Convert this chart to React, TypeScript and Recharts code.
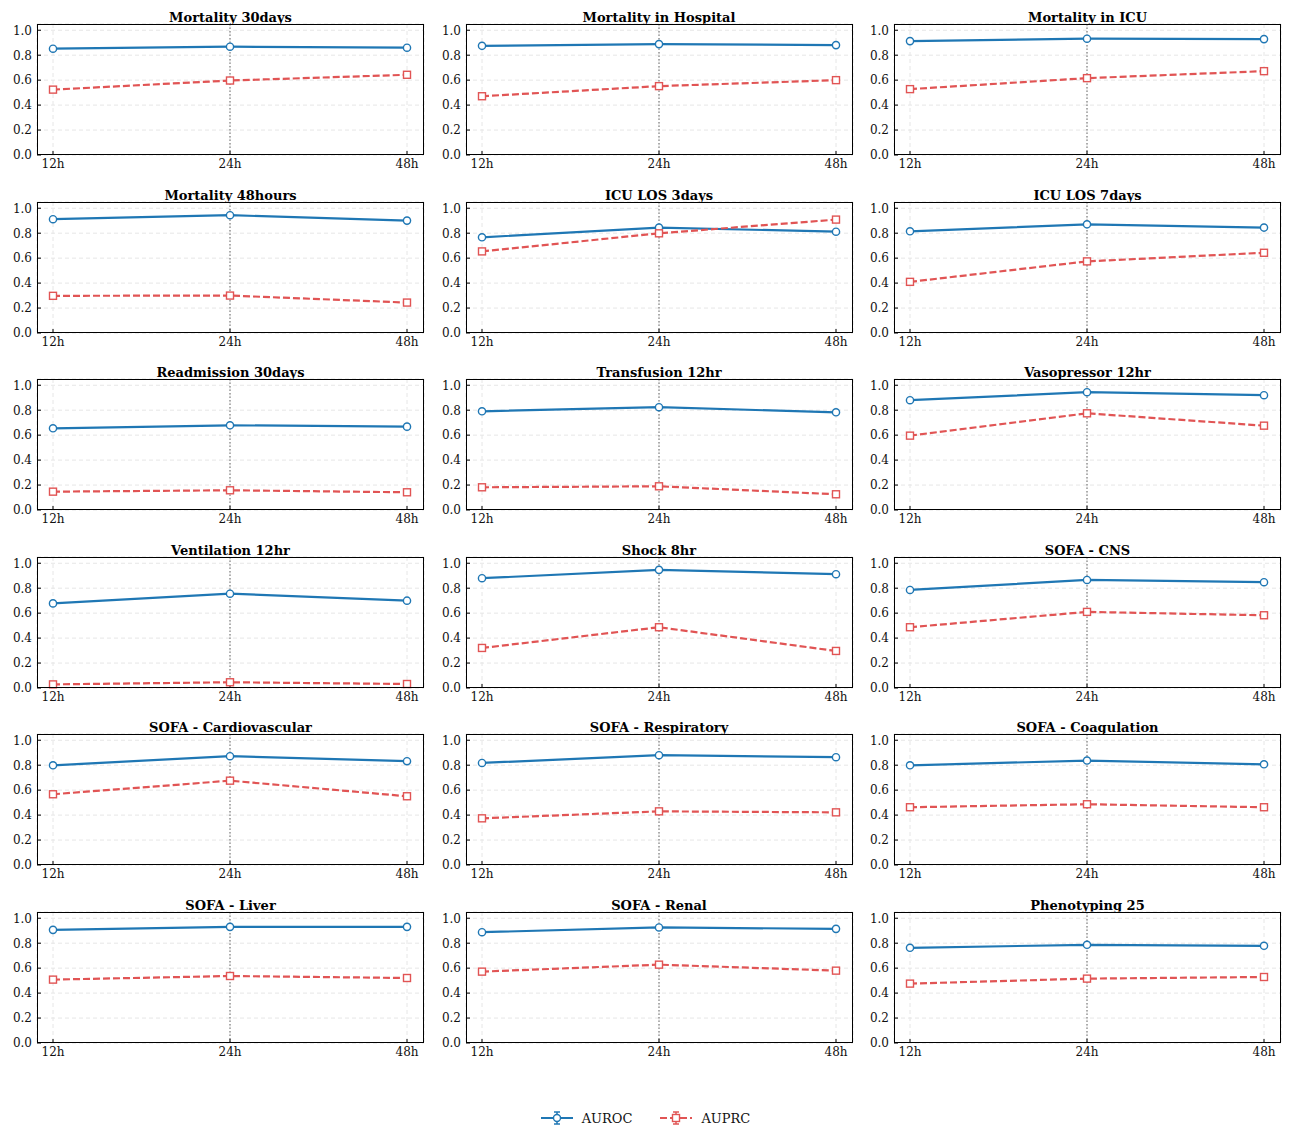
import React from 'react';
import { LineChart, Line, XAxis, YAxis, CartesianGrid, ReferenceLine } from 'recharts';

// observation windows on the x axis
const horizons = ['12h', '24h', '48h'];

const taskNames = [
  'Mortality 30days',
  'Mortality in Hospital',
  'Mortality in ICU',
  'Mortality 48hours',
  'ICU LOS 3days',
  'ICU LOS 7days',
  'Readmission 30days',
  'Transfusion 12hr',
  'Vasopressor 12hr',
  'Ventilation 12hr',
  'Shock 8hr',
  'SOFA - CNS',
  'SOFA - Cardiovascular',
  'SOFA - Respiratory',
  'SOFA - Coagulation',
  'SOFA - Liver',
  'SOFA - Renal',
  'Phenotyping 25',
];

const aurocValues = [
  [0.852, 0.868, 0.86],
  [0.875, 0.889, 0.881],
  [0.913, 0.932, 0.929],
  [0.912, 0.944, 0.901],
  [0.767, 0.845, 0.812],
  [0.815, 0.871, 0.845],
  [0.655, 0.679, 0.668],
  [0.791, 0.824, 0.783],
  [0.88, 0.944, 0.92],
  [0.678, 0.756, 0.7],
  [0.88, 0.947, 0.912],
  [0.786, 0.866, 0.848],
  [0.799, 0.872, 0.832],
  [0.818, 0.88, 0.864],
  [0.799, 0.837, 0.807],
  [0.907, 0.931, 0.931],
  [0.888, 0.926, 0.915],
  [0.763, 0.787, 0.779],
];

const auprcValues = [
  [0.524, 0.597, 0.643],
  [0.471, 0.552, 0.6],
  [0.528, 0.616, 0.672],
  [0.298, 0.3, 0.244],
  [0.654, 0.799, 0.909],
  [0.41, 0.574, 0.643],
  [0.147, 0.158, 0.142],
  [0.182, 0.19, 0.126],
  [0.596, 0.775, 0.676],
  [0.029, 0.046, 0.032],
  [0.321, 0.487, 0.297],
  [0.487, 0.61, 0.583],
  [0.567, 0.676, 0.551],
  [0.374, 0.43, 0.422],
  [0.463, 0.487, 0.463],
  [0.508, 0.537, 0.521],
  [0.572, 0.628, 0.58],
  [0.476, 0.516, 0.529],
];

const yTicks = [0, 0.2, 0.4, 0.6, 0.8, 1.0];

const BLUE = '#1f77b4';
const RED = '#e15454';
const FONT = '"DejaVu Serif", serif';

const CHART_W = 430;
const CHART_H = 178;
const COL_STEP = 428.5;
const ROW_STEP = 177.6;
const PLOT_LEFT = 37;
const PLOT_TOP = 24;
const PLOT_W = 387;
const PLOT_H = 131;

const squareDot = (props: any) => {
  const { cx, cy, index } = props;
  if (cx == null || cy == null) return <g key={`sq-${index}`} />;
  return (
    <rect
      key={`sq-${index}`}
      x={cx - 3.5}
      y={cy - 3.5}
      width={7}
      height={7}
      fill="#fff"
      stroke={RED}
      strokeWidth={1.4}
    />
  );
};

// tick labels drawn by hand so the serif font sticks
const XTick = ({ x, y, payload }: any) => (
  <text x={x} y={y + 1} textAnchor="middle" dy="0.72em" fontFamily={FONT} fontSize={12} fill="#111">
    {payload.value}
  </text>
);

const YTick = ({ x, y, payload }: any) => (
  <text x={x} y={y} textAnchor="end" dy="0.36em" fontFamily={FONT} fontSize={12} fill="#111">
    {Number(payload.value).toFixed(1)}
  </text>
);

function Panel({ title, auroc, auprc, left, top }: any) {
  const data = horizons.map((h, i) => ({ horizon: h, AUROC: auroc[i], AUPRC: auprc[i] }));

  return (
    <div style={{ position: 'absolute', left, top, width: CHART_W, height: CHART_H, fontFamily: FONT }}>
      <div
        style={{
          position: 'absolute',
          left: PLOT_LEFT,
          top: 10,
          width: PLOT_W,
          textAlign: 'center',
          fontFamily: FONT,
          fontWeight: 'bold',
          fontSize: 13,
          lineHeight: '15px',
          color: '#000',
          whiteSpace: 'nowrap',
        }}
      >
        {title}
      </div>
      <LineChart
        width={CHART_W}
        height={CHART_H}
        data={data}
        style={{ fontFamily: FONT }}
        margin={{ top: PLOT_TOP, right: CHART_W - PLOT_LEFT - PLOT_W, bottom: 0, left: 0 }}
      >
        <CartesianGrid strokeDasharray="4 3" stroke="#e6e6e6" />
        <XAxis
          dataKey="horizon"
          height={CHART_H - PLOT_TOP - PLOT_H}
          padding={{ left: 16, right: 17 }}
          axisLine={false}
          tickLine={{ stroke: '#000' }}
          tickSize={-4}
          tickMargin={7}
          tick={<XTick />}
          interval={0}
        />
        <YAxis
          width={PLOT_LEFT}
          domain={[0, 1.05]}
          ticks={yTicks}
          axisLine={false}
          tickLine={{ stroke: '#000' }}
          tickSize={-4}
          tickMargin={9}
          tick={<YTick />}
          interval={0}
        />
        <ReferenceLine x="24h" stroke="#666" strokeDasharray="1.5 2" strokeWidth={1} />
        <Line
          type="linear"
          dataKey="AUROC"
          stroke={BLUE}
          strokeWidth={2.2}
          dot={{ r: 3.6, fill: '#fff', stroke: BLUE, strokeWidth: 1.4 }}
          activeDot={false}
          isAnimationActive={false}
        />
        <Line
          type="linear"
          dataKey="AUPRC"
          stroke={RED}
          strokeWidth={2.2}
          strokeDasharray="7 3"
          dot={squareDot}
          activeDot={false}
          isAnimationActive={false}
        />
      </LineChart>
      {/* plot frame */}
      <div
        style={{
          position: 'absolute',
          left: PLOT_LEFT,
          top: PLOT_TOP,
          width: PLOT_W,
          height: PLOT_H,
          border: '1.3px solid #000',
          boxSizing: 'border-box',
          pointerEvents: 'none',
        }}
      />
    </div>
  );
}

function LegendMarker({ color, dashed, square }: any) {
  return (
    <svg width={32} height={16} style={{ display: 'block' }}>
      <line x1={0} x2={32} y1={8} y2={8} stroke={color} strokeWidth={2} strokeDasharray={dashed ? '7 3' : undefined} />
      <line x1={16} x2={16} y1={2} y2={14} stroke={color} strokeWidth={1.5} />
      <line x1={13} x2={19} y1={2} y2={2} stroke={color} strokeWidth={1.5} />
      <line x1={13} x2={19} y1={14} y2={14} stroke={color} strokeWidth={1.5} />
      {square ? (
        <rect x={12.5} y={4.5} width={7} height={7} fill="#fff" stroke={color} strokeWidth={1.4} />
      ) : (
        <circle cx={16} cy={8} r={3.5} fill="#fff" stroke={color} strokeWidth={1.4} />
      )}
    </svg>
  );
}

export default function App() {
  return (
    <div style={{ position: 'absolute', left: 0, top: 0, width: 1291, height: 1138, background: '#fff' }}>
      {taskNames.map((name, i) => (
        <Panel
          key={name}
          title={name}
          auroc={aurocValues[i]}
          auprc={auprcValues[i]}
          left={(i % 3) * COL_STEP}
          top={Math.floor(i / 3) * ROW_STEP}
        />
      ))}

      {/* shared legend */}
      <div
        style={{
          position: 'absolute',
          left: 0,
          top: 1110,
          width: 1291,
          display: 'flex',
          justifyContent: 'center',
          alignItems: 'center',
          gap: 28,
          fontFamily: FONT,
          fontSize: 13,
          color: '#111',
        }}
      >
        <div style={{ display: 'flex', alignItems: 'center', gap: 9 }}>
          <LegendMarker color={BLUE} />
          <span>AUROC</span>
        </div>
        <div style={{ display: 'flex', alignItems: 'center', gap: 9 }}>
          <LegendMarker color={RED} dashed square />
          <span>AUPRC</span>
        </div>
      </div>
    </div>
  );
}
